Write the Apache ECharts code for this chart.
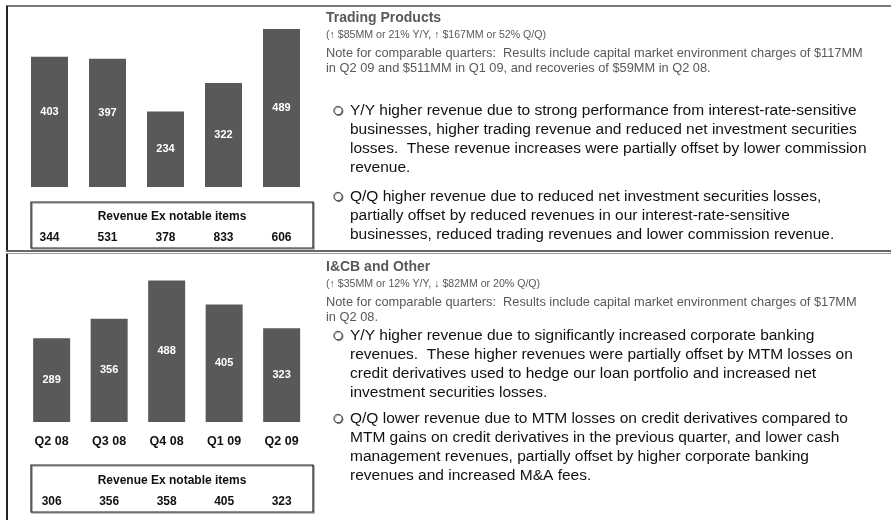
<!DOCTYPE html>
<html>
<head>
<meta charset="utf-8">
<script src="https://cdn.jsdelivr.net/npm/echarts@6/dist/echarts.min.js"></script>
<style>
html,body{margin:0;padding:0;background:#fff;}
#chart{width:891px;height:520px;}
</style>
</head>
<body>
<div id="chart"></div>
<script>
const quarters = ['Q2 08', 'Q3 08', 'Q4 08', 'Q1 09', 'Q2 09'];
const tradingRevenue = [403, 397, 234, 322, 489];
const tradingExNotable = [344, 531, 378, 833, 606];
const icbRevenue = [289, 356, 488, 405, 323];
const icbExNotable = [306, 356, 358, 405, 323];
const exNotableTitle = 'Revenue Ex notable items';

const tradingTitle = 'Trading Products';
const tradingChange = '(\u2191 $85MM or 21% Y/Y, \u2191 $167MM or 52% Q/Q)';
const tradingNote = 'Note for comparable quarters:  Results include capital market environment charges of $117MM\nin Q2 09 and $511MM in Q1 09, and recoveries of $59MM in Q2 08.';
const tradingBullets = [
  'Y/Y higher revenue due to strong performance from interest-rate-sensitive\nbusinesses, higher trading revenue and reduced net investment securities\nlosses.  These revenue increases were partially offset by lower commission\nrevenue.',
  'Q/Q higher revenue due to reduced net investment securities losses,\npartially offset by reduced revenues in our interest-rate-sensitive\nbusinesses, reduced trading revenues and lower commission revenue.'
];
const icbTitle = 'I&CB and Other';
const icbChange = '(\u2191 $35MM or 12% Y/Y, \u2193 $82MM or 20% Q/Q)';
const icbNote = 'Note for comparable quarters:  Results include capital market environment charges of $17MM\nin Q2 08.';
const icbBullets = [
  'Y/Y higher revenue due to significantly increased corporate banking\nrevenues.  These higher revenues were partially offset by MTM losses on\ncredit derivatives used to hedge our loan portfolio and increased net\ninvestment securities losses.',
  'Q/Q lower revenue due to MTM losses on credit derivatives compared to\nMTM gains on credit derivatives in the previous quarter, and lower cash\nmanagement revenues, partially offset by higher corporate banking\nrevenues and increased M&A fees.'
];

const FONT = '"Liberation Sans", Arial, sans-serif';
const BAR = '#595959';
const chart = echarts.init(document.getElementById('chart'), null, {renderer: 'canvas'});

function hideAxis(extra) {
  return Object.assign({
    type: 'category',
    axisLine: {show: false},
    axisTick: {show: false},
    splitLine: {show: false}
  }, extra);
}

function textEl(x, y, text, style) {
  return {
    type: 'text', x: x, y: y, silent: true,
    style: Object.assign({text: text, fontFamily: FONT, textVerticalAlign: 'top'}, style)
  };
}

function bulletBlock(x, y, lines) {
  return [
    {type: 'circle', silent: true, shape: {cx: x + 4, cy: y + 9.5, r: 4.2},
      style: {fill: '#fff', stroke: '#444', lineWidth: 1, shadowColor: 'rgba(0,0,0,0.45)', shadowOffsetX: 0.8, shadowOffsetY: 0.8, shadowBlur: 0}},
    textEl(x + 16, y, lines, {fontSize: 15.5, lineHeight: 19, fill: '#111'})
  ];
}

const barLabel = {show: true, position: 'inside', color: '#fff', fontWeight: 'bold', fontSize: 11, fontFamily: FONT};
const boxStyle = {fill: 'none', stroke: '#222', lineWidth: 1.2, shadowColor: 'rgba(0,0,0,0.5)', shadowOffsetX: 1, shadowOffsetY: 1, shadowBlur: 0};

const graphics = [
  {type: 'line', silent: true, shape: {x1: 6, y1: 6, x2: 891, y2: 6}, style: {stroke: '#7a7a7a', lineWidth: 2}},
  {type: 'line', silent: true, shape: {x1: 7, y1: 6, x2: 7, y2: 250}, style: {stroke: '#222', lineWidth: 2}},
  {type: 'line', silent: true, shape: {x1: 6, y1: 251, x2: 891, y2: 251}, style: {stroke: '#333', lineWidth: 1.5}},
  {type: 'line', silent: true, shape: {x1: 6, y1: 253.5, x2: 891, y2: 253.5}, style: {stroke: '#999', lineWidth: 1}},
  {type: 'line', silent: true, shape: {x1: 7, y1: 254, x2: 7, y2: 520}, style: {stroke: '#222', lineWidth: 2}},
  {type: 'rect', silent: true, shape: {x: 31, y: 202, width: 282, height: 46}, style: boxStyle},
  {type: 'rect', silent: true, shape: {x: 31, y: 465, width: 282, height: 47}, style: boxStyle},
  textEl(172, 211, exNotableTitle, {fontSize: 12, fontWeight: 'bold', fill: '#111', textAlign: 'center'}),
  textEl(172, 475, exNotableTitle, {fontSize: 12, fontWeight: 'bold', fill: '#111', textAlign: 'center'}),

  textEl(326, 11, tradingTitle, {fontSize: 14, fontWeight: 'bold', fill: '#595959'}),
  textEl(326, 30, tradingChange, {fontSize: 10.6, fill: '#595959'}),
  textEl(326, 46, tradingNote, {fontSize: 12.8, lineHeight: 15, fill: '#595959'}),
  ...bulletBlock(334, 101, tradingBullets[0]),
  ...bulletBlock(334, 187, tradingBullets[1]),

  textEl(326, 260, icbTitle, {fontSize: 14, fontWeight: 'bold', fill: '#595959'}),
  textEl(326, 279, icbChange, {fontSize: 10.6, fill: '#595959'}),
  textEl(326, 295, icbNote, {fontSize: 12.8, lineHeight: 15, fill: '#595959'}),
  ...bulletBlock(334, 326, icbBullets[0]),
  ...bulletBlock(334, 409, icbBullets[1])
];

const option = {
  animation: false,
  backgroundColor: '#fff',
  textStyle: {fontFamily: FONT},
  grid: [
    {left: 20.5, top: 9.35, width: 290, height: 177.65},
    {left: 22.9, top: 262.5, width: 287.5, height: 159.5}
  ],
  xAxis: [
    hideAxis({gridIndex: 0, data: quarters, axisLabel: {show: false}}),
    hideAxis({gridIndex: 0, data: tradingExNotable, position: 'bottom', offset: 44,
      axisLabel: {interval: 0, margin: 0, fontSize: 12, lineHeight: 14, fontWeight: 'bold', color: '#111', fontFamily: FONT}}),
    hideAxis({gridIndex: 1, data: quarters,
      axisLabel: {interval: 0, margin: 13, fontSize: 12.5, lineHeight: 14, fontWeight: 'bold', color: '#111', fontFamily: FONT}}),
    hideAxis({gridIndex: 1, data: icbExNotable, position: 'bottom', offset: 73,
      axisLabel: {interval: 0, margin: 0, fontSize: 12, lineHeight: 14, fontWeight: 'bold', color: '#111', fontFamily: FONT}})
  ],
  yAxis: [
    {type: 'value', gridIndex: 0, min: 0, max: 550, show: false},
    {type: 'value', gridIndex: 1, min: 0, max: 550, show: false}
  ],
  series: [
    {type: 'bar', xAxisIndex: 0, yAxisIndex: 0, barWidth: 37, itemStyle: {color: BAR},
      label: barLabel,
      data: tradingRevenue.map((v, i) => i < 2 ? {value: v, label: {offset: [0, -10]}} : v)},
    {type: 'bar', xAxisIndex: 2, yAxisIndex: 1, barWidth: 37, itemStyle: {color: BAR},
      label: barLabel, data: icbRevenue}
  ],
  graphic: graphics
};
chart.setOption(option);
</script>
</body>
</html>
